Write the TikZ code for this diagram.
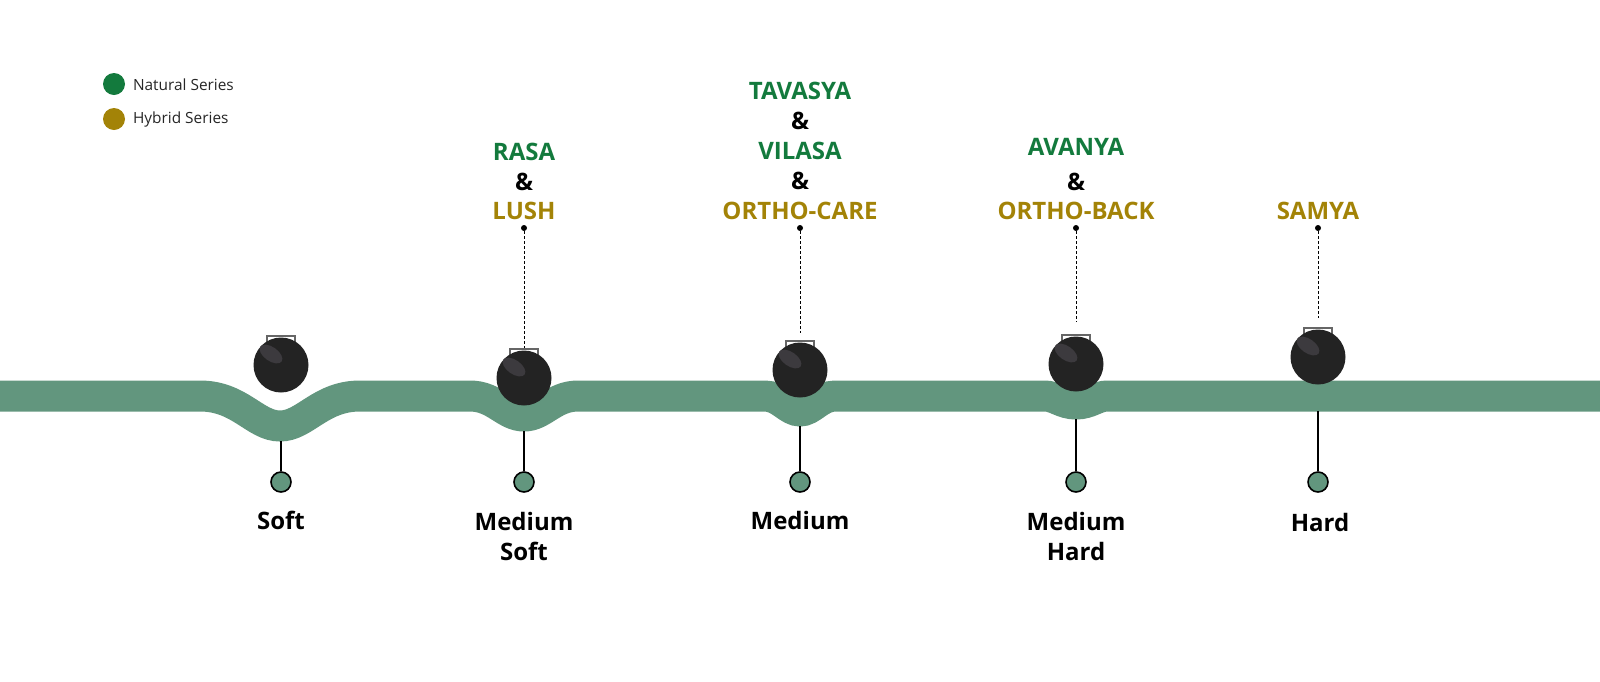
\documentclass[tikz,border=0pt]{standalone}
\usepackage{fontspec}
\setmainfont{Open Sans}
\begin{document}
\definecolor{band}{HTML}{62967E}
\definecolor{nat}{HTML}{137A3D}
\definecolor{hyb}{HTML}{A38307}
\definecolor{ballc}{HTML}{232323}
\definecolor{hl}{HTML}{3C3A3E}
\begin{tikzpicture}[x=0.5pt,y=-0.5pt,
  lab/.style={font=\bfseries\fontsize{12}{14}\selectfont,align=center,text=black},
  n/.style={font=\bfseries\fontsize{12}{14}\selectfont,text=nat,inner sep=0},
  h/.style={font=\bfseries\fontsize{12}{14}\selectfont,text=hyb,inner sep=0},
  amp/.style={font=\bfseries\fontsize{12}{14}\selectfont,inner sep=0},
  knob/.style={circle,draw=black,line width=0.8pt,fill=band,minimum size=10pt,inner sep=0},
  dotn/.style={circle,fill=black,minimum size=3pt,inner sep=0},
  leg/.style={font=\fontsize{7.7}{9}\selectfont,anchor=west,text=black!85}]
\useasboundingbox (0,0) rectangle (1600,681);
% band
\draw[band,line width=15.5pt]
 (0,396) -- (200,396) .. controls (240,396) and (255,426) .. (280,426)
 .. controls (305,426) and (320,396) .. (360,396) -- (470,396)
 .. controls (495,396) and (505,416) .. (524,416)
 .. controls (543,416) and (553,396) .. (578,396) -- (765,396)
 .. controls (780,396) and (788,411) .. (800,411)
 .. controls (812,411) and (820,396) .. (835,396) -- (1045,396)
 .. controls (1055,396) and (1062,404) .. (1076,404)
 .. controls (1090,404) and (1097,396) .. (1107,396) -- (1600,396);
% balls
\foreach \nm/\x/\y/\b in {b1/281/365/441, b2/524/378/431, b3/800/370/426, b4/1076/364/419, b5/1318/357/411}{
  \draw[gray!80!black,line width=0.9pt] (\x-14,\y-16) -- (\x-14,\y-29) -- (\x+14,\y-29) -- (\x+14,\y-16);
  \node[circle,fill=ballc,minimum size=27.5pt,inner sep=0] (\nm) at (\x,\y) {};
  \fill[hl,rotate around={-35:(\x-10,\y-11)}] (\x-10,\y-11) ellipse (13 and 7);
  \coordinate (\nm s) at (\x,\b);
  \node[knob] (\nm k) at (\x,482) {};
  \draw[line width=1pt] (\nm s) -- (\nm k);
}
% bottom labels
\node[lab] at (281,520) {Soft};
\node[lab] at (524,536) {Medium\\[1pt]Soft};
\node[lab] at (800,520) {Medium};
\node[lab] at (1076,536) {Medium\\[1pt]Hard};
\node[lab] at (1320,522) {Hard};
% dotted connectors
\foreach \nm/\x/\t in {b2/524/348, b3/800/333, b4/1076/322, b5/1318/318}{
  \node[dotn] (\nm d) at (\x,228) {};
  \coordinate (\nm t) at (\x,\t);
  \draw[dash pattern=on 1.5pt off 1pt,line width=0.5pt] (\nm d) -- (\nm t);
}
% top labels
\node[n] (rasa) at (524,152) {RASA};
\node[amp] (a1) at (524,182) {\&};
\node[h] (lush) at (524,211) {LUSH};
\node[n] (tav) at (800,91) {TAVASYA};
\node[amp] (a2) at (800,121) {\&};
\node[n] (vil) at (800,151) {VILASA};
\node[amp] (a3) at (800,181) {\&};
\node[h] (oc) at (800,211) {ORTHO-CARE};
\node[n] (av) at (1076,147) {AVANYA};
\node[amp] (a4) at (1076,182) {\&};
\node[h] (ob) at (1076,211) {ORTHO-BACK};
\node[h] (sam) at (1318,211) {SAMYA};
% legend
\node[circle,fill=nat,minimum size=11pt,inner sep=0] (ln) at (114,84) {};
\node[circle,fill=hyb,minimum size=11pt,inner sep=0] (lh) at (114,119) {};
\node[leg] at (126,85) {Natural Series};
\node[leg] at (126,119) {Hybrid Series};
\end{tikzpicture}
\end{document}
